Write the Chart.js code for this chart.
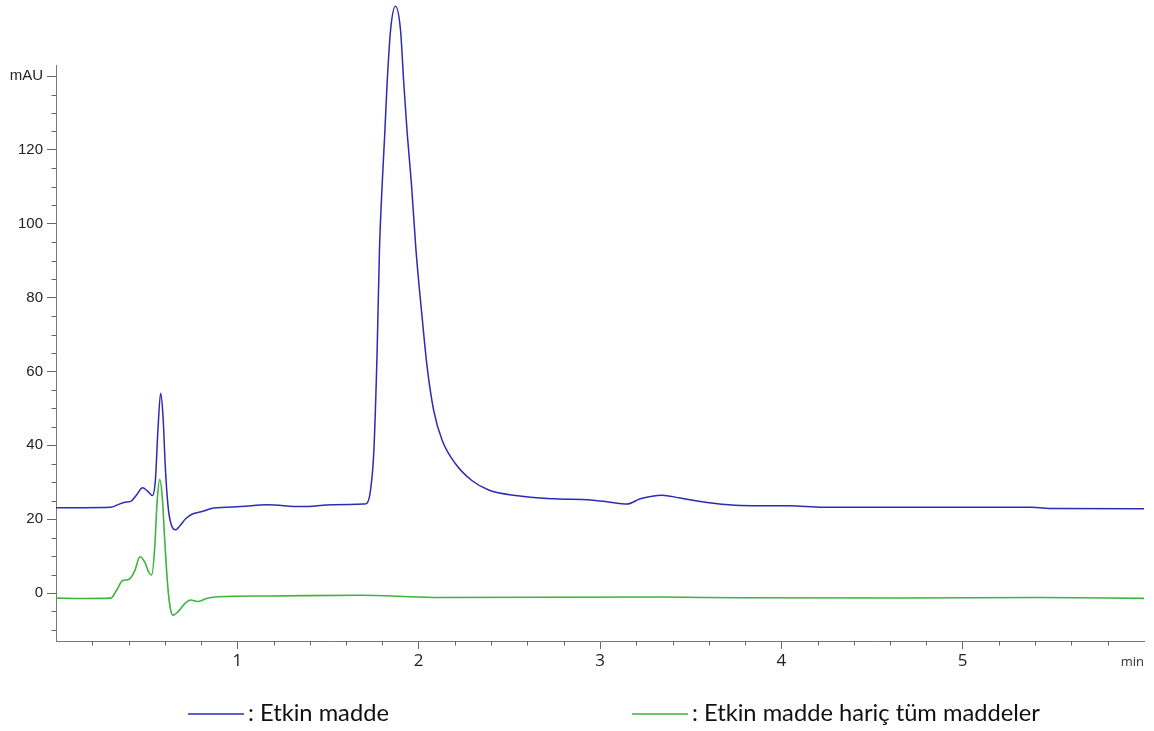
<!DOCTYPE html>
<html lang="tr">
<head>
<meta charset="utf-8">
<title>Kromatogram</title>
<script src="https://cdn.jsdelivr.net/npm/chart.js@4.4.1/dist/chart.umd.min.js"></script>
<style>
  html, body { margin: 0; padding: 0; background: #fff; }
  #wrap { width: 1154px; height: 731px; }
</style>
</head>
<body>
<div id="wrap"><canvas id="chart" width="1154" height="731"></canvas></div>
<script>
// Retention time (min) and detector signal (mAU) for each run
const etkinTime = [0.0, 0.15, 0.30, 0.345, 0.38, 0.415, 0.445, 0.477, 0.505, 0.532,
  0.548, 0.562, 0.577, 0.59, 0.604, 0.62, 0.638, 0.66, 0.685, 0.715,
  0.752, 0.80, 0.87, 1.02, 1.165, 1.35, 1.53, 1.698, 1.716, 1.734,
  1.753, 1.771, 1.784, 1.799, 1.813, 1.826, 1.845, 1.872, 1.90, 1.918,
  1.937, 1.96, 1.985, 2.019, 2.047, 2.083, 2.13, 2.203, 2.295, 2.386,
  2.533, 2.753, 2.947, 3.055, 3.149, 3.222, 3.342, 3.442, 3.626, 3.773,
  4.048, 4.232, 4.655, 5.38, 5.50, 6.0];
const etkinSignal = [23.1, 23.1, 23.2, 24.0, 24.6, 24.9, 26.6, 28.5, 27.6, 26.4,
  30.5, 44.0, 54.1, 48.0, 33.0, 22.5, 18.2, 17.1, 18.3, 20.1,
  21.4, 22.0, 23.0, 23.4, 23.9, 23.4, 23.9, 24.1, 24.4, 27.7,
  38.6, 65.7, 93.2, 110.9, 124.4, 138.0, 152.4, 158.9, 152.4, 138.0,
  124.4, 110.9, 93.0, 74.7, 61.1, 49.4, 41.3, 35.0, 30.4, 27.9,
  26.4, 25.5, 25.2, 24.6, 24.1, 25.5, 26.5, 25.7, 24.3, 23.7,
  23.6, 23.2, 23.2, 23.2, 22.9, 22.8];

const digerTime = [0.0, 0.15, 0.302, 0.337, 0.366, 0.403, 0.434, 0.463, 0.49, 0.512,
  0.528, 0.544, 0.558, 0.572, 0.586, 0.60, 0.616, 0.63, 0.645, 0.671,
  0.704, 0.743, 0.78, 0.83, 0.89, 1.167, 1.679, 2.082, 3.342, 3.773,
  4.655, 5.426, 6.0];
const digerSignal = [-1.4, -1.5, -1.4, 1.0, 3.3, 3.7, 6.0, 9.8, 8.3, 5.6,
  4.9, 12.0, 25.0, 30.7, 26.0, 14.0, 2.0, -4.0, -6.0, -5.2,
  -3.2, -1.9, -2.3, -1.5, -1.0, -0.8, -0.6, -1.2, -1.1, -1.3,
  -1.35, -1.2, -1.45];

const seriesNames = [": Etkin madde", ": Etkin madde hariç tüm maddeler"];
const seriesColors = ["#2b2bb5", "#3bb53b"];

const xMajorTicks = [1, 2, 3, 4, 5];
const xTickLabels = ["1", "2", "3", "4", "5"];
const yMajorTicks = [0, 20, 40, 60, 80, 100, 120, 140];
const yTickLabels = ["0", "20", "40", "60", "80", "100", "120", "mAU"];
const xUnit = "min";

function toPoints(times, values) {
  return times.map((t, i) => ({ x: t, y: values[i] }));
}

// short minor ticks on both axes plus the time unit at the end of the x axis
const minorTicks = {
  id: "minorTicks",
  afterDraw(chart) {
    const { ctx, scales: { x, y } } = chart;
    ctx.save();
    ctx.strokeStyle = "#666";
    ctx.lineWidth = 1;
    ctx.beginPath();
    for (let v = -10; v <= 140; v += 5) {
      if (v % 20 === 0) continue;
      const py = Math.round(y.getPixelForValue(v)) + 0.5;
      ctx.moveTo(x.left - 4.5, py);
      ctx.lineTo(x.left, py);
    }
    for (let i = 1; i < 30; i++) {
      if (i % 5 === 0) continue;
      const px = Math.round(x.getPixelForValue(i * 0.2)) + 0.5;
      ctx.moveTo(px, y.bottom);
      ctx.lineTo(px, y.bottom + 4.5);
    }
    ctx.stroke();
    ctx.fillStyle = "#333";
    ctx.font = "13px 'Open Sans'";
    ctx.textAlign = "right";
    ctx.textBaseline = "middle";
    ctx.fillText(xUnit, x.right, y.bottom + 21);
    ctx.restore();
  }
};

// legend drawn below the axis: a short line then the series name
const lineLegend = {
  id: "lineLegend",
  afterDraw(chart) {
    const ctx = chart.ctx;
    const slots = [188, 632];
    ctx.save();
    chart.data.datasets.forEach((ds, i) => {
      const x0 = slots[i];
      const yMid = 714;
      ctx.strokeStyle = ds.borderColor;
      ctx.lineWidth = 1.5;
      ctx.beginPath();
      ctx.moveTo(x0, yMid);
      ctx.lineTo(x0 + 56, yMid);
      ctx.stroke();
      ctx.fillStyle = "#111";
      ctx.font = "23.7px Lato";
      ctx.textAlign = "left";
      ctx.textBaseline = "middle";
      ctx.fillText(ds.label, x0 + 60, yMid - 1);
    });
    ctx.restore();
  }
};

const canvas = document.getElementById("chart");
new Chart(canvas.getContext("2d"), {
  type: "line",
  data: {
    datasets: [
      {
        label: seriesNames[0],
        data: toPoints(etkinTime, etkinSignal),
        borderColor: seriesColors[0],
        borderWidth: 1.5,
        pointRadius: 0,
        cubicInterpolationMode: "monotone",
        clip: false
      },
      {
        label: seriesNames[1],
        data: toPoints(digerTime, digerSignal),
        borderColor: seriesColors[1],
        borderWidth: 1.6,
        pointRadius: 0,
        cubicInterpolationMode: "monotone",
        clip: false
      }
    ]
  },
  options: {
    responsive: false,
    animation: false,
    layout: { padding: { top: 65, right: 10, bottom: 60, left: 0 } },
    plugins: {
      legend: { display: false },
      tooltip: { enabled: false }
    },
    scales: {
      x: {
        type: "linear",
        min: 0,
        max: 6,
        afterFit(scale) { scale.height = 30; },
        afterBuildTicks(scale) { scale.ticks = xMajorTicks.map(v => ({ value: v })); },
        border: { color: "#777", width: 1 },
        grid: { drawOnChartArea: false, tickLength: 8, tickColor: "#666" },
        ticks: {
          padding: 2,
          color: "#222",
          maxRotation: 0,
          font: { family: "'Open Sans'", size: 17 },
          callback: (v, i) => xTickLabels[i]
        }
      },
      y: {
        type: "linear",
        min: -13,
        max: 143,
        afterFit(scale) { scale.width = 56; },
        afterBuildTicks(scale) { scale.ticks = yMajorTicks.map(v => ({ value: v })); },
        border: { color: "#777", width: 1 },
        grid: { drawOnChartArea: false, tickLength: 9, tickColor: "#666" },
        ticks: {
          padding: 4,
          color: "#222",
          font: { family: "'Liberation Sans', Arial", size: 15 },
          callback: (v, i) => yTickLabels[i]
        }
      }
    }
  },
  plugins: [minorTicks, lineLegend]
});
</script>
</body>
</html>
